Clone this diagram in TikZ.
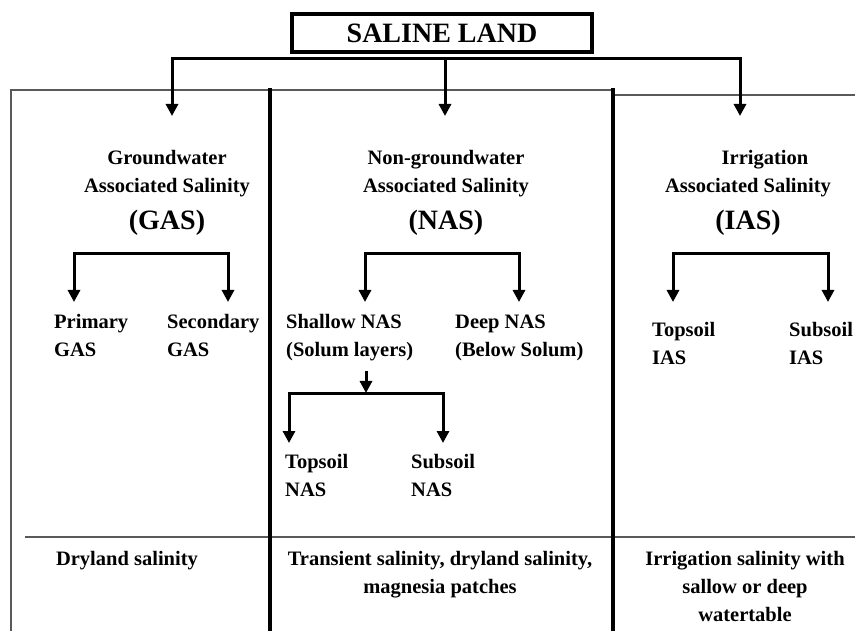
\documentclass[tikz,border=0pt]{standalone}
\usepackage{fontspec}
\setmainfont{Liberation Serif}
\usetikzlibrary{arrows.meta}

\begin{document}
\begin{tikzpicture}[x=1pt, y=-1pt,
    lbl/.style={font=\bfseries\fontsize{20.5}{28}\selectfont, inner sep=0pt},
    abbr/.style={font=\bfseries\fontsize{28}{30}\selectfont, inner sep=0pt, anchor=base},
    arr/.style={line width=3pt, -{Triangle[width=12pt,length=12pt]}},
    wall/.style={line width=4.5pt},
    rule/.style={line width=1.2pt, black!65}]
  \useasboundingbox (0,0) rectangle (855,631);
  \draw[rule] (11,631) -- (11,90) -- (270,90) -- (613,90);
  \draw[rule] (613,95) -- (855,95);
  \draw[rule] (25,537) -- (855,537);
  \draw[wall] (270,88) -- (270,631);
  \draw[wall] (613,88) -- (613,631);
  \node[draw, line width=3.5pt, minimum width=300pt, minimum height=38pt, inner sep=0pt,
        font=\bfseries\fontsize{28}{30}\selectfont] (saline) at (442,33) {SALINE LAND};
  \coordinate (topfork) at (445,59);
  \coordinate (gasin) at (172,116);
  \coordinate (nasin) at (445,116);
  \coordinate (iasin) at (740,116);
  \draw[arr] (topfork) -| (gasin);
  \draw[arr] (topfork) -| (iasin);
  \draw[arr] (topfork) -- (nasin);
  \node[lbl, align=center, anchor=base] (gasname) at (167,193) {Groundwater\\Associated Salinity};
  \node[abbr] (gas) at (167,230) {(GAS)};
  \node[lbl, align=center, anchor=base] (nasname) at (446,193) {Non-groundwater\\Associated Salinity};
  \node[abbr] (nas) at (446,230) {(NAS)};
  \node[lbl, align=center, anchor=base] (iasname) at (748,193) {\hspace*{34pt}Irrigation\\Associated Salinity};
  \node[abbr] (ias) at (748,230) {(IAS)};
  \coordinate (gasfork) at (151,254);
  \coordinate (priin) at (74,302);
  \coordinate (secin) at (228,302);
  \draw[arr] (gasfork) -| (priin);
  \draw[arr] (gasfork) -| (secin);
  \node[lbl, align=left, anchor=base west] (primary) at (54,356) {Primary\\GAS};
  \node[lbl, align=left, anchor=base west] (secondary) at (167,356) {Secondary\\GAS};
  \coordinate (nasfork) at (442,254);
  \coordinate (shallowin) at (365,302);
  \coordinate (deepin) at (519,302);
  \draw[arr] (nasfork) -| (shallowin);
  \draw[arr] (nasfork) -| (deepin);
  \node[lbl, align=left, anchor=base west] (shallow) at (286,356) {Shallow NAS\\(Solum layers)};
  \node[lbl, align=left, anchor=base west] (deep) at (455,356) {Deep NAS\\(Below Solum)};
  \coordinate (solstem) at (366,371);
  \coordinate (solfork) at (366,393);
  \coordinate (topnasin) at (289,443);
  \coordinate (subnasin) at (443,443);
  \draw[arr] (solstem) -- (solfork);
  \draw[arr] (solfork) -| (topnasin);
  \draw[arr] (solfork) -| (subnasin);
  \node[lbl, align=left, anchor=base west] (topnas) at (285,496) {Topsoil\\NAS};
  \node[lbl, align=left, anchor=base west] (subnas) at (411,496) {Subsoil\\NAS};
  \coordinate (iasfork) at (750,254);
  \coordinate (topiasin) at (673,302);
  \coordinate (subiasin) at (828,302);
  \draw[arr] (iasfork) -| (topiasin);
  \draw[arr] (iasfork) -| (subiasin);
  \node[lbl, align=left, anchor=base west] (topias) at (652,364) {Topsoil\\IAS};
  \node[lbl, align=left, anchor=base west] (subias) at (789,364) {Subsoil\\IAS};
  \node[lbl, anchor=base] (dryland) at (127,565) {Dryland salinity};
  \node[lbl, align=center, anchor=base] (transient) at (440,593) {Transient salinity, dryland salinity,\\magnesia patches};
  \node[lbl, align=center, anchor=base] (irrigation) at (745,621) {Irrigation salinity with\\sallow or deep\\watertable};
\end{tikzpicture}
\end{document}
